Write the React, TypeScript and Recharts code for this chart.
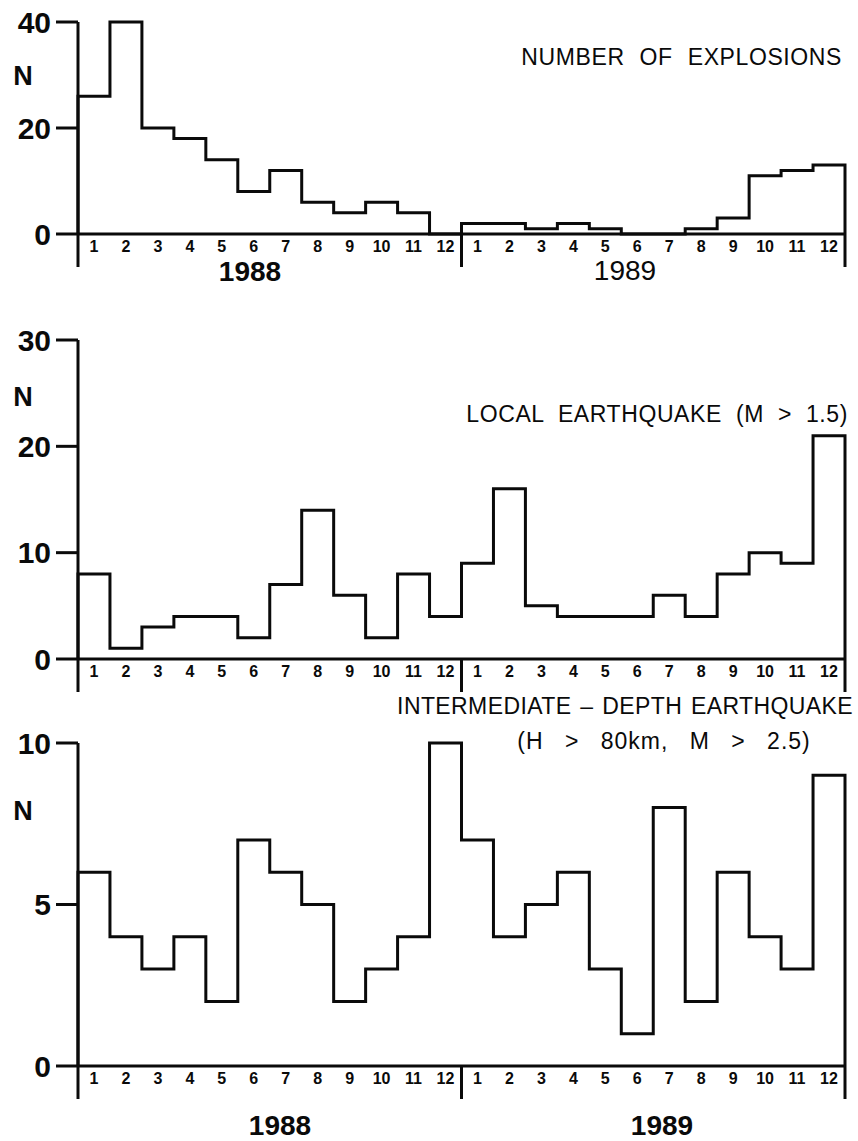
import { LineChart, Line, XAxis, YAxis } from "recharts";

const FONT = "'Liberation Sans', Arial, Helvetica, sans-serif";
const INK = "#0a0a0a";

const MONTHS = ["1", "2", "3", "4", "5", "6", "7", "8", "9", "10", "11", "12"];
const YEARS = ["1988", "1989"];

const explosions1988 = [26, 40, 20, 18, 14, 8, 12, 6, 4, 6, 4, 0];
const explosions1989 = [2, 2, 1, 2, 1, 0, 0, 1, 3, 11, 12, 13];
const local1988 = [8, 1, 3, 4, 4, 2, 7, 14, 6, 2, 8, 4];
const local1989 = [9, 16, 5, 4, 4, 4, 6, 4, 8, 10, 9, 21];
const deep1988 = [6, 4, 3, 4, 2, 7, 6, 5, 2, 3, 4, 10];
const deep1989 = [7, 4, 5, 6, 3, 1, 8, 2, 6, 4, 3, 9];

const explosionTicks = [0, 20, 40];
const localTicks = [0, 10, 20, 30];
const deepTicks = [0, 5, 10];

// histogram outline: rise from the axis at month 0, step through months, drop at month 24
const toSteps = (a: number[], b: number[]) => {
    const vals = [...a, ...b];
    return [
        { x: 0, n: 0 },
        ...vals.map((v, i) => ({ x: i, n: v })),
        { x: vals.length, n: vals[vals.length - 1] },
        { x: vals.length, n: 0 },
    ];
};

// month labels at bin centres, plus long marks under the axis at 0, 12, 24
const xTicks = [...Array.from({ length: 24 }, (_, i) => i + 0.5), 0, 12, 24];

const MonthTick = ({ x, y, payload }: any) => {
    const v = payload.value;
    if (Number.isInteger(v)) {
        return <line x1={x} y1={y} x2={x} y2={y + 33} stroke={INK} strokeWidth={3} />;
    }
    return (
        <text x={x} y={y + 18} textAnchor="middle" fill={INK} fontSize={16} fontWeight={700} fontFamily={FONT}>
            {MONTHS[Math.floor(v) % 12]}
        </text>
    );
};

interface PanelProps {
    data: { x: number; n: number }[];
    ticks: number[];
    top: number;
    marginTop: number;
    plotHeight: number;
}

function Panel({ data, ticks, top, marginTop, plotHeight }: PanelProps) {
    const h = marginTop + plotHeight + 45;
    return (
        <div style={{ position: "absolute", left: 0, top }}>
            <LineChart width={858} height={h} data={data} margin={{ top: marginTop, right: 13, left: 0, bottom: 0 }}>
                <XAxis
                    dataKey="x"
                    type="number"
                    domain={[0, 24]}
                    ticks={xTicks}
                    interval={0}
                    height={45}
                    tickSize={0}
                    tickMargin={0}
                    tickLine={false}
                    axisLine={{ stroke: INK, strokeWidth: 3 }}
                    tick={<MonthTick />}
                />
                <YAxis
                    type="number"
                    domain={[0, ticks[ticks.length - 1]]}
                    ticks={ticks}
                    interval={0}
                    width={78}
                    tickSize={22}
                    tickMargin={5}
                    axisLine={{ stroke: INK, strokeWidth: 3 }}
                    tickLine={{ stroke: INK, strokeWidth: 3 }}
                    tick={{ fill: INK, fontSize: 30, fontWeight: 700, fontFamily: FONT }}
                />
                <Line
                    type="stepAfter"
                    dataKey="n"
                    stroke={INK}
                    strokeWidth={3}
                    strokeLinejoin="miter"
                    dot={false}
                    activeDot={false}
                    isAnimationActive={false}
                />
            </LineChart>
        </div>
    );
}

const txt = { fill: INK, fontFamily: FONT };

export default function App() {
    return (
        <div style={{ position: "absolute", left: 0, top: 0, width: 858, height: 1141, background: "#fff" }}>
            <Panel data={toSteps(explosions1988, explosions1989)} ticks={explosionTicks} top={0} marginTop={22} plotHeight={212} />
            <Panel data={toSteps(local1988, local1989)} ticks={localTicks} top={300} marginTop={40} plotHeight={319} />
            <Panel data={toSteps(deep1988, deep1989)} ticks={deepTicks} top={715} marginTop={28} plotHeight={323} />

            <svg width={858} height={1141} style={{ position: "absolute", left: 0, top: 0, pointerEvents: "none" }}>
                <text x={842} y={65} textAnchor="end" fontSize={23} letterSpacing={0.6} wordSpacing={8} {...txt}>
                    NUMBER OF EXPLOSIONS
                </text>
                <text x={848} y={422} textAnchor="end" fontSize={23} letterSpacing={0.6} wordSpacing={7} {...txt}>
                    LOCAL EARTHQUAKE (M &gt; 1.5)
                </text>
                <text x={853} y={714} textAnchor="end" fontSize={23} letterSpacing={0.4} wordSpacing={2} {...txt}>
                    INTERMEDIATE – DEPTH EARTHQUAKE
                </text>
                <text x={664} y={749} textAnchor="middle" fontSize={23} letterSpacing={1} wordSpacing={14} {...txt}>
                    (H &gt; 80km, M &gt; 2.5)
                </text>

                <text x={23} y={85} textAnchor="middle" fontSize={27} fontWeight={700} {...txt}>N</text>
                <text x={23} y={406} textAnchor="middle" fontSize={27} fontWeight={700} {...txt}>N</text>
                <text x={23} y={820} textAnchor="middle" fontSize={27} fontWeight={700} {...txt}>N</text>

                <text x={250} y={281} textAnchor="middle" fontSize={28} fontWeight={700} {...txt}>{YEARS[0]}</text>
                <text x={625} y={280} textAnchor="middle" fontSize={28} {...txt}>{YEARS[1]}</text>
                <text x={280} y={1135} textAnchor="middle" fontSize={28} fontWeight={700} {...txt}>{YEARS[0]}</text>
                <text x={662} y={1135} textAnchor="middle" fontSize={28} fontWeight={700} {...txt}>{YEARS[1]}</text>
            </svg>
        </div>
    );
}
